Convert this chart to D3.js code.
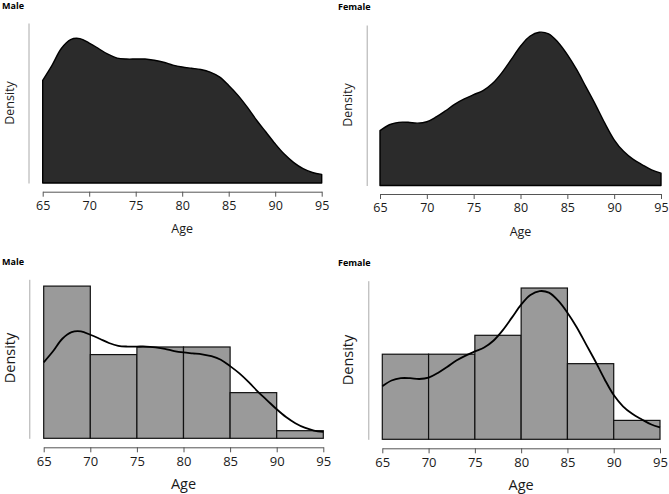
<!DOCTYPE html>
<html>
<head>
<meta charset="utf-8">
<script src="https://cdn.jsdelivr.net/npm/d3@7"></script>
<style>
  body { margin: 0; background: #fff; }
  svg { display: block; font-family: "Open Sans", sans-serif; }
</style>
</head>
<body>
<svg id="chart" width="669" height="494"></svg>
<script>
// Age grid for the density curves (years)
const ages = [65, 66, 67, 68, 69, 70, 71, 72, 73, 74, 75, 76, 77, 78, 79, 80,
  81, 82, 83, 84, 85, 86, 87, 88, 89, 90, 91, 92, 93, 94, 95];

// density estimates
const maleDensity = [0.0322, 0.0369, 0.0422, 0.0450, 0.0453, 0.0439, 0.0422, 0.0404,
  0.0392, 0.0389, 0.0389, 0.0389, 0.0385, 0.0379, 0.0370, 0.0364, 0.0360, 0.0356,
  0.0348, 0.0333, 0.0306, 0.0275, 0.0238, 0.0197, 0.0160, 0.0123, 0.0090, 0.0064,
  0.0045, 0.0033, 0.0027];
const femaleDensity = [0.0204, 0.0226, 0.0235, 0.0235, 0.0232, 0.0237, 0.0255, 0.0278,
  0.0303, 0.0322, 0.0338, 0.0353, 0.0379, 0.0419, 0.0468, 0.0518, 0.0555, 0.0570,
  0.0564, 0.0533, 0.0487, 0.0431, 0.0366, 0.0301, 0.0232, 0.0170, 0.0127, 0.0098,
  0.0077, 0.0058, 0.0046];

// histogram bins (5-year wide) and counts
const binEdges = [65, 70, 75, 80, 85, 90, 95];
const maleCounts = [20, 11, 12, 12, 6, 1];
const femaleCounts = [9, 9, 11, 16, 8, 2];

const xTicks = [65, 70, 75, 80, 85, 90, 95];

const svg = d3.select('#chart');

// panel layout boxes (pixel positions in the page)
const panels = [
  { title: 'Male', kind: 'density', dens: maleDensity, yMax: 0.0502,
    tx: 2, ty: 8.5, x0: 42.7, x1: 321.7, yTop: 23, yBot: 183, yAxisX: 28.5, xAxisY: 191.7,
    tickFont: 12.5, labFont: 12.5, densFont: 12.5, ageY: 233, densX: 13.5, densY: 103 },
  { title: 'Female', kind: 'density', dens: femaleDensity, yMax: 0.0597,
    tx: 338, ty: 10, x0: 380, x1: 661, yTop: 25, yBot: 185.5, yAxisX: 366.7, xAxisY: 194,
    tickFont: 12.5, labFont: 12.5, densFont: 12.5, ageY: 236, densX: 352, densY: 105 },
  { title: 'Male', kind: 'hist', dens: maleDensity, counts: maleCounts, yMax: 0.0674,
    tx: 2, ty: 264.5, x0: 43.7, x1: 323.3, yTop: 279.3, yBot: 438.3, yAxisX: 29.3, xAxisY: 447.3,
    tickFont: 13, labFont: 14.5, densFont: 14.5, ageY: 489, densX: 14.5, densY: 358 },
  { title: 'Female', kind: 'hist', dens: femaleDensity, counts: femaleCounts, yMax: 0.0610,
    tx: 338, ty: 265.5, x0: 382.3, x1: 660, yTop: 280.7, yBot: 439.3, yAxisX: 368.3, xAxisY: 448.3,
    tickFont: 13, labFont: 14.5, densFont: 14.5, ageY: 489.5, densX: 353, densY: 360 },
];

panels.forEach((p) => {
  const g = svg.append('g');

  const x = d3.scaleLinear().domain([65, 95]).range([p.x0, p.x1]);
  const y = d3.scaleLinear().domain([0, p.yMax]).range([p.yBot, p.yTop]);

  const pts = ages.map((a, i) => ({ age: a, d: p.dens[i] }));

  if (p.kind === 'density') {
    const area = d3.area()
      .x((d) => x(d.age))
      .y0(y(0))
      .y1((d) => y(d.d))
      .curve(d3.curveCatmullRom);
    g.append('path')
      .datum(pts)
      .attr('d', area)
      .attr('fill', '#2b2b2b')
      .attr('stroke', '#000')
      .attr('stroke-width', 1.4)
      .attr('stroke-linejoin', 'round');
  } else {
    const total = d3.sum(p.counts);
    const bins = p.counts.map((c, i) => ({
      lo: binEdges[i],
      hi: binEdges[i + 1],
      d: c / (total * (binEdges[i + 1] - binEdges[i])),
    }));
    g.selectAll('rect.bar')
      .data(bins)
      .enter()
      .append('rect')
      .attr('class', 'bar')
      .attr('x', (b) => x(b.lo))
      .attr('y', (b) => y(b.d))
      .attr('width', (b) => x(b.hi) - x(b.lo))
      .attr('height', (b) => y(0) - y(b.d))
      .attr('fill', '#9a9a9a')
      .attr('stroke', '#111')
      .attr('stroke-width', 1.2);

    const line = d3.line()
      .x((d) => x(d.age))
      .y((d) => y(d.d))
      .curve(d3.curveCatmullRom);
    g.append('path')
      .datum(pts)
      .attr('d', line)
      .attr('fill', 'none')
      .attr('stroke', '#000')
      .attr('stroke-width', 1.8);
  }

  // y axis: plain line, no ticks
  const yAxisG = g.append('g')
    .attr('transform', `translate(${p.yAxisX},0)`)
    .call(d3.axisLeft(y).tickValues([]).tickSizeOuter(0));
  yAxisG.select('.domain').attr('stroke', '#aaa').attr('stroke-width', 1);

  // x axis
  const xAxisG = g.append('g')
    .attr('transform', `translate(0,${p.xAxisY})`)
    .call(d3.axisBottom(x).tickValues(xTicks).tickSize(5).tickSizeOuter(0).tickPadding(4));
  xAxisG.select('.domain').attr('stroke', '#555').attr('stroke-width', 1);
  xAxisG.selectAll('.tick line').attr('stroke', '#555');
  xAxisG.selectAll('.tick text')
    .attr('fill', '#1a1a1a')
    .style('font-size', `${p.tickFont}px`)
    .style('font-family', '"Open Sans", sans-serif');

  // axis titles
  g.append('text')
    .attr('x', (p.x0 + p.x1) / 2)
    .attr('y', p.ageY)
    .attr('text-anchor', 'middle')
    .attr('fill', '#1a1a1a')
    .style('font-size', `${p.labFont}px`)
    .text('Age');

  g.append('text')
    .attr('transform', `translate(${p.densX},${p.densY}) rotate(-90)`)
    .attr('text-anchor', 'middle')
    .attr('fill', '#1a1a1a')
    .style('font-size', `${p.densFont}px`)
    .text('Density');

  // panel title
  g.append('text')
    .attr('x', p.tx)
    .attr('y', p.ty)
    .attr('fill', '#000')
    .style('font-size', '9px')
    .style('font-weight', 'bold')
    .text(p.title);
});
</script>
</body>
</html>
